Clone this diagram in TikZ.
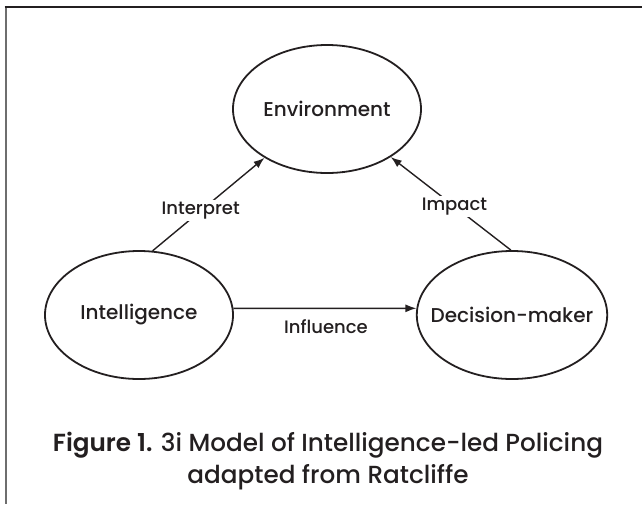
\documentclass[tikz,border=0pt]{standalone}
\usepackage{fontspec}
\setmainfont{Poppins}[UprightFont={* Medium}, BoldFont={* SemiBold}]
\usetikzlibrary{shapes.geometric,arrows.meta}
\definecolor{ink}{HTML}{231F20}
\definecolor{rule}{HTML}{6E6E6E}

\begin{document}
\begin{tikzpicture}[x=1pt, y=-1pt,
    ellnode/.style={draw=ink, line width=1.8pt, ellipse, inner xsep=-14pt, inner ysep=0pt,
      minimum width=188pt, minimum height=128pt, font=\fontsize{20}{24}\selectfont, text=ink},
    link/.style={draw=ink, line width=1.4pt, -{Latex[length=11pt,width=8pt]}},
    lbl/.style={fill=white, inner sep=2pt, font=\fontsize{18}{20}\selectfont, text=ink}]
    \useasboundingbox (0,0) rectangle (642,504);
    %% frame, only the top and left edges show
    \draw [rule, line width=2pt] (5.5,7) -- (5.5,504);
    \draw [ink, line width=1.8pt] (4.5,7) -- (642,7);

    %% the three ellipses
    \node [ellnode] (env) at (327,109) {Environment};
    \node [ellnode] (intel) at (139,315) {Intelligence};
    \node [ellnode] (dec) at (512,315) {Decision-maker};

    %% connectors
    \draw [link] (intel.78) -- (env.218) node [lbl, pos=0.43] (interp) {Interpret};
    \draw [link] (dec.91) -- (env.323) node [lbl, pos=0.47] (imp) {Impact};
    \draw [link] (intel.4) -- (dec.176);
    \node [lbl, fill=none] (infl) at (326,327) {Influence};

    \node [align=center, text=ink, font=\fontsize{24.7}{32}\selectfont] (cap) at (328,461)
      {\textbf{Figure 1.} 3i Model of Intelligence-led Policing\\
       adapted from Ratcliffe};
\end{tikzpicture}
\end{document}
